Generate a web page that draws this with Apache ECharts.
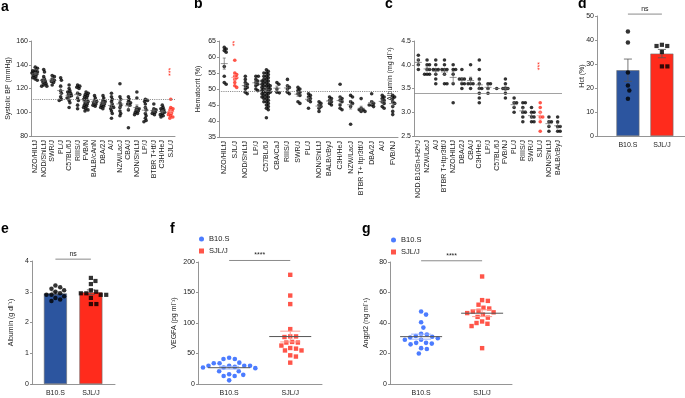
<!DOCTYPE html>
<html>
<head>
<meta charset="utf-8">
<script src="https://cdn.jsdelivr.net/npm/echarts@6/dist/echarts.min.js"></script>
<style>
html, body { margin: 0; padding: 0; background: #fff; }
#chart { width: 685px; height: 398px; }
</style>
</head>
<body>
<div id="chart"></div>
<script>
// ---------- data ----------
// a: systolic BP (mmHg) per strain
const bpStrains = ['NZO/HILtJ', 'NOD/ShiLtJ', 'SWR/J', 'PL/J', 'C57BL/6J', 'RIIIS/J', 'FVB/N', 'BALB/cAnN', 'DBA/2J',
  'A/J', 'NZW/LacJ', 'CBA/J', 'NON/ShiLtJ', 'LP/J', 'BTBR T+tf/J', 'C3H/HeJ', 'SJL/J']
const bpValues = [
  [138, 137, 135, 134, 133, 132, 131, 130, 129, 128, 127, 133, 135],
  [136, 134, 130, 128, 126, 125, 124, 123, 122, 122, 127],
  [131, 130, 128, 127, 126, 125, 123],
  [129, 127, 122, 118, 116, 113, 111, 110],
  [123, 120, 118, 117, 116, 115, 114, 113, 112, 110, 108, 104],
  [123, 122, 121, 120, 116, 115, 112, 110, 106, 103],
  [117, 116, 115, 114, 113, 112, 111, 110, 109, 108, 107, 106, 105, 104, 103, 102, 101],
  [114, 112, 110, 109, 108, 107, 106, 105],
  [114, 112, 110, 109, 108, 107, 106, 105, 104, 103],
  [116, 113, 111, 109, 107, 105, 104, 103, 101, 99, 95],
  [124, 113, 111, 108, 106, 104, 101, 99, 97],
  [113, 111, 109, 108, 107, 106, 102, 87],
  [117, 112, 104, 103, 102, 101, 100, 99, 98],
  [111, 110, 109, 107, 104, 102, 99, 97, 95, 93, 92],
  [107, 103, 102, 101, 100, 99, 98],
  [106, 104, 103, 102, 101, 100, 99, 98, 97, 96],
  [111, 104, 103, 102, 101, 100, 99, 98, 97, 96, 95]
]
const bpRed = 16
const bpRef = 111
const bpStars = [{ group: 16, value: 134, text: '***' }]

// b: hematocrit (%) per strain
const hctStrains = ['NZO/HILtJ', 'SJL/J', 'NOD/ShiLtJ', 'LP/J', 'C57BL/6J', 'CBA/CaJ', 'RIIIS/J', 'SWR/J', 'PL/J',
  'NON/ShiLtJ', 'BALB/cByJ', 'C3H/HeJ', 'NZW/LacJ', 'BTBR T+ Itpr3tf/J', 'DBA/2J', 'A/J', 'FVB/NJ']
const hctValues = [
  [63, 62.5, 62, 61.5, 57, 54, 52, 51.5],
  [59, 55, 54.5, 54, 53.5, 53, 52, 51, 50.5],
  [54, 53, 52, 51.5, 51, 50.5, 50, 49, 48.5],
  [54, 54, 53, 52.5, 52, 51.5, 51, 50, 49.5],
  [56, 55.5, 55, 55, 54.5, 54, 54, 53.5, 53, 53, 52.5, 52.5, 52, 52, 51.5, 51.5, 51, 51, 51, 50.5, 50.5, 50, 50, 50,
    49.5, 49.5, 49, 49, 49, 48.5, 48.5, 48, 48, 47.5, 47.5, 47, 47, 46.5, 46, 46, 45.5, 45, 44.5, 44, 43.5, 41],
  [52, 51.5, 50, 49, 48.8],
  [53, 51, 50.5, 50, 49, 48.5],
  [50.5, 50, 49.5, 49, 48.5, 48, 46, 45.5],
  [48.5, 48, 47.5, 47, 46.5, 46, 44],
  [46, 45.5, 45, 44.5, 44, 43],
  [47.5, 47, 46.5, 46, 45.5, 45],
  [51.5, 47.5, 47, 46.5, 46, 45, 44, 43.5],
  [48, 47.5, 46, 45.5, 44.5, 39],
  [47, 44, 43.5, 43.5, 43, 43],
  [48.5, 46, 45.5, 45, 45, 44.5],
  [48, 47.5, 47, 46.5, 46, 45.5, 44.5, 44],
  [48, 47.5, 47, 46, 45.5, 44.5, 43, 42]
]
const hctRed = 1
const hctRef = 49.3
const hctStars = [{ group: 1, value: 64.2, text: '**' }]

// c: albumin (mg/dl) per strain
const albStrains = ['NOD.B10Sn-H2ᵇ/J', 'NZW/LacJ', 'A/J', 'BTBR T+Itpr3tf/J', 'NZO/HILtJ', 'DBA/2J', 'CBA/J', 'C3H/HeJ',
  'LP/J', 'C57BL/6J', 'FVB/NJ', 'PL/J', 'RIIIS/J', 'SWR/J', 'SJL/J', 'NON/ShiLtJ', 'BALB/cByJ']
const albValues = [
  [4.2, 4.1, 4.0, 3.9],
  [4.1, 4.0, 4.0, 3.9, 3.9, 3.8, 3.8, 3.8],
  [4.1, 4.0, 3.9, 3.9, 3.9, 3.8, 3.7, 3.6],
  [4.1, 4.0, 3.9, 3.9, 3.9, 3.8, 3.6, 3.6],
  [4.0, 3.9, 3.9, 3.8, 3.6, 3.2],
  [3.9, 3.7, 3.7, 3.7, 3.6, 3.6, 3.5],
  [4.0, 3.7, 3.6, 3.6, 3.6, 3.5],
  [4.1, 3.9, 3.7, 3.6, 3.5, 3.5, 3.4, 3.3, 3.2],
  [3.6, 3.6, 3.5, 3.4],
  [3.5],
  [3.7, 3.6, 3.5, 3.5, 3.5, 3.4, 3.3],
  [3.3, 3.2, 3.2, 3.1, 3.0],
  [3.2, 3.2, 3.1, 3.0, 3.0, 2.9, 2.8],
  [3.1, 3.0, 3.0, 2.9, 2.9, 2.8, 2.8],
  [3.2, 3.1, 3.0, 2.9, 2.9, 2.8, 2.6],
  [2.9, 2.8, 2.8, 2.7, 2.6],
  [2.9, 2.8, 2.7, 2.7, 2.6, 2.6]
]
const albRed = 14
const albRef = 3.4
const albStars = [{ group: 14, value: 3.97, text: '***' }]

// d-g: B10.S vs SJL/J
const groups = ['B10.S', 'SJL/J']
const hctB10 = [43.5, 39, 26.5, 21, 19, 15.5]
const hctSJL = [38, 37.5, 37.5, 35, 29, 29]
const hctSig = { text: 'ns', level: 50.8 }
const albB10 = [3.2, 3.15, 3.1, 3.05, 3.0, 2.95, 2.9, 2.9, 2.85, 2.8, 2.75, 2.7]
const albSJL = [3.45, 3.35, 3.25, 3.05, 3.0, 2.95, 2.95, 2.9, 2.9, 2.8, 2.6, 2.6]
const albSig = { text: 'ns', level: 4.06 }
const vegfB10 = [43, 41, 41, 35, 34, 34, 30, 30, 30, 30, 28, 27, 27, 26, 21, 21, 16, 15, 13, 13, 6]
const vegfSJL = [179, 145, 131, 90, 78, 78, 77, 69, 68, 68, 63, 59, 58, 55, 55, 47, 45, 35]
const vegfSig = { text: '****', level: 202.5 }
const angB10 = [47.5, 45.5, 40.5, 37, 33, 32.5, 31.5, 31, 30.5, 30, 29, 29, 27, 27, 26.5, 26, 23.5, 23, 20]
const angSJL = [70.5, 55, 54.5, 52, 50, 49.5, 48, 47.5, 47, 46.5, 45.5, 44, 43.5, 41, 40, 39.5, 38, 23.5]
const angSig = { text: '****', level: 80.8 }

// ---------- styles / layout ----------
const FONT = 'Liberation Sans, Arial, sans-serif'
const RED = '#ff2b1c'
const DOT_BLUE = '#1f5bff'
const BAR_BLUE = '#2c559f'
const AXIS = '#7a7a7a'
const TXT = '#222'

// one entry per panel a..g
const panels = [
  { box: [31, 41, 144, 95], x: [-0.5, 16.5], y: [80, 160, 20], name: 'Systolic BP (mmHg)', gap: 19, cats: bpStrains },
  { box: [219, 41, 179, 96], x: [-0.5, 16.5], y: [35, 65, 5], name: 'Hematocrit (%)', gap: 17, cats: hctStrains },
  { box: [414, 41, 148, 95], x: [-0.5, 16.5], y: [2.5, 4.5, 0.5], name: 'Albumin (mg dl⁻¹)', gap: 21, cats: albStrains, dec: 1, ownTitle: true },
  { box: [597, 16, 88, 120], x: [-0.91, 1.68], y: [0, 50, 10], name: 'Hct (%)', gap: 11, cats: groups },
  { box: [32, 261, 83, 123], x: [-0.66, 1.68], y: [0, 4, 1], name: 'Albumin (g dl⁻¹)', gap: 17, cats: groups },
  { box: [198, 262, 124, 122], x: [-0.51, 1.52], y: [0, 200, 50], name: 'VEGFA (pg ml⁻¹)', gap: 20, cats: groups },
  { box: [390, 262, 122, 122], x: [-0.51, 1.49], y: [0, 80, 20], name: 'Angpt2 (ng ml⁻¹)', gap: 20, cats: groups }
]
panels.forEach(p => {
  p.ux = p.box[2] / (p.x[1] - p.x[0])
  p.uy = p.box[3] / (p.y[1] - p.y[0])
})

function mean (a) { return a.reduce((s, v) => s + v, 0) / a.length }
function sem (a) {
  if (a.length < 2) return 0
  const m = mean(a)
  return Math.sqrt(a.reduce((s, v) => s + (v - m) * (v - m), 0) / (a.length - 1)) / Math.sqrt(a.length)
}

// beeswarm: put dots of one group side by side so they do not sit on top of each other
function swarm (values, center, p, gap) {
  const placed = []
  const pts = []
  const order = values.map((v, i) => i).sort((i, j) => values[j] - values[i])
  order.forEach(i => {
    const py = values[i] * p.uy
    const cands = [0]
    placed.forEach(q => {
      const dy = q[1] - py
      if (Math.abs(dy) < gap) {
        const dx = Math.sqrt(gap * gap - dy * dy)
        cands.push(q[0] + dx, q[0] - dx)
      }
    })
    cands.sort((u, v) => Math.abs(u) - Math.abs(v))
    const off = cands.find(c => !placed.some(q => (q[0] - c) ** 2 + (q[1] - py) ** 2 < gap * gap - 0.01))
    placed.push([off, py])
    pts.push([center + off / p.ux, values[i]])
  })
  return pts
}

// ---------- axes ----------
const grid = panels.map(p => ({
  left: p.box[0], top: p.box[1], width: p.box[2], height: p.box[3], outerBoundsMode: 'none'
}))
const xAxis = panels.map((p, i) => ({
  type: 'value', gridIndex: i, min: p.x[0], max: p.x[1],
  splitLine: { show: false },
  axisLine: { onZero: false, lineStyle: { color: AXIS, width: 0.8 } },
  axisTick: { show: false },
  axisLabel: {
    customValues: p.cats.map((c, k) => k),
    formatter: v => p.cats[Math.round(v)],
    rotate: i < 3 ? 90 : 0,
    margin: i < 3 ? 4 : 6,
    fontSize: 7, color: TXT, fontFamily: FONT
  }
}))
const yAxis = panels.map((p, i) => ({
  type: 'value', gridIndex: i, min: p.y[0], max: p.y[1], interval: p.y[2],
  splitLine: { show: false },
  axisLine: { show: true, onZero: false, lineStyle: { color: AXIS, width: 0.8 } },
  axisTick: { show: true, length: 2, lineStyle: { color: AXIS, width: 0.8 } },
  axisLabel: {
    fontSize: 7, color: TXT, margin: 3, fontFamily: FONT,
    formatter: v => p.dec ? v.toFixed(p.dec) : String(v)
  },
  name: p.ownTitle ? '' : p.name, nameLocation: 'middle', nameRotate: 90, nameGap: p.gap, nameMoveOverlap: false,
  nameTextStyle: { fontSize: 7, color: TXT, fontFamily: FONT }
}))

// ---------- series ----------
const series = []

function strainPanel (idx, values, red, ref, refType, stars) {
  const p = panels[idx]
  const black = []
  const reds = []
  values.forEach((vals, g) => {
    swarm(vals, g, p, 2.5).forEach(pt => (g === red ? reds : black).push(pt))
  })
  series.push({
    type: 'scatter', xAxisIndex: idx, yAxisIndex: idx, symbolSize: 3.6, silent: true,
    itemStyle: { color: '#000' }, data: black,
    markLine: {
      silent: true, symbol: 'none', label: { show: false },
      lineStyle: { color: '#8a8a8a', width: refType === 'dotted' ? 1.1 : 0.8, type: refType },
      data: [{ yAxis: ref }]
    }
  })
  series.push({
    type: 'scatter', xAxisIndex: idx, yAxisIndex: idx, symbolSize: 3.6, silent: true,
    itemStyle: { color: RED }, data: reds
  })
  // mean +/- SEM
  series.push({
    type: 'custom', xAxisIndex: idx, yAxisIndex: idx, silent: true, z: 5,
    data: values.map((vals, g) => [g, mean(vals), sem(vals), g === red ? 1 : 0]),
    renderItem: (params, api) => {
      const x = api.value(0)
      const m = api.value(1)
      const s = api.value(2)
      const c = api.coord([x, m])
      const hi = api.coord([x, m + s])
      const lo = api.coord([x, m - s])
      const st = { stroke: api.value(3) ? '#ff9a90' : '#666', lineWidth: 0.7 }
      return {
        type: 'group',
        children: [
          { type: 'line', shape: { x1: c[0] - 3.5, y1: c[1], x2: c[0] + 3.5, y2: c[1] }, style: st },
          { type: 'line', shape: { x1: c[0], y1: hi[1], x2: c[0], y2: lo[1] }, style: st },
          { type: 'line', shape: { x1: c[0] - 1.5, y1: hi[1], x2: c[0] + 1.5, y2: hi[1] }, style: st },
          { type: 'line', shape: { x1: c[0] - 1.5, y1: lo[1], x2: c[0] + 1.5, y2: lo[1] }, style: st }
        ]
      }
    }
  })
  // red significance stars
  series.push({
    type: 'custom', xAxisIndex: idx, yAxisIndex: idx, silent: true, z: 6,
    data: stars.map(s => [s.group, s.value]),
    renderItem: (params, api) => {
      const c = api.coord([api.value(0), api.value(1)])
      return {
        type: 'text', x: c[0], y: c[1], rotation: Math.PI / 2,
        style: {
          text: stars[params.dataIndex].text, fill: RED, font: '7px ' + FONT,
          align: 'center', verticalAlign: 'middle'
        }
      }
    }
  })
}

strainPanel(0, bpValues, bpRed, bpRef, 'dotted', bpStars)
strainPanel(1, hctValues, hctRed, hctRef, 'dotted', hctStars)
strainPanel(2, albValues, albRed, albRef, 'solid', albStars)

function sigSeries (idx, sig) {
  series.push({
    type: 'custom', xAxisIndex: idx, yAxisIndex: idx, silent: true, z: 6,
    data: [[0, sig.level, 1]],
    renderItem: (params, api) => {
      const a = api.coord([api.value(0), api.value(1)])
      const b = api.coord([api.value(2), api.value(1)])
      return {
        type: 'group',
        children: [
          { type: 'line', shape: { x1: a[0], y1: a[1], x2: b[0], y2: b[1] }, style: { stroke: '#8a8a8a', lineWidth: 1 } },
          {
            type: 'text', x: (a[0] + b[0]) / 2, y: a[1] - 1.5,
            style: { text: sig.text, fill: TXT, font: '7px ' + FONT, align: 'center', verticalAlign: 'bottom' }
          }
        ]
      }
    }
  })
}

function barPanel (idx, b10, sjl, sig) {
  const p = panels[idx]
  series.push({
    type: 'bar', xAxisIndex: idx, yAxisIndex: idx, barWidth: 23, silent: true,
    itemStyle: { borderColor: '#6f6f6f', borderWidth: 0.6 },
    data: [
      { value: [0, mean(b10)], itemStyle: { color: BAR_BLUE } },
      { value: [1, mean(sjl)], itemStyle: { color: RED } }
    ]
  })
  series.push({
    type: 'custom', xAxisIndex: idx, yAxisIndex: idx, silent: true, z: 4,
    data: [b10, sjl].map((vals, g) => [g, mean(vals), sem(vals)]),
    renderItem: (params, api) => {
      const x = api.value(0)
      const m = api.value(1)
      const s = api.value(2)
      const hi = api.coord([x, m + s])
      const lo = api.coord([x, m - s])
      const st = { stroke: '#555', lineWidth: 0.8 }
      return {
        type: 'group',
        children: [
          { type: 'line', shape: { x1: hi[0], y1: hi[1], x2: lo[0], y2: lo[1] }, style: st },
          { type: 'line', shape: { x1: hi[0] - 4, y1: hi[1], x2: hi[0] + 4, y2: hi[1] }, style: st },
          { type: 'line', shape: { x1: lo[0] - 4, y1: lo[1], x2: lo[0] + 4, y2: lo[1] }, style: st }
        ]
      }
    }
  })
  series.push({
    type: 'scatter', xAxisIndex: idx, yAxisIndex: idx, symbol: 'circle', symbolSize: 4.5, silent: true, z: 5,
    itemStyle: { color: '#000' }, data: swarm(b10, 0, p, 5)
  })
  series.push({
    type: 'scatter', xAxisIndex: idx, yAxisIndex: idx, symbol: 'rect', symbolSize: 4.2, silent: true, z: 5,
    itemStyle: { color: '#000' }, data: swarm(sjl, 1, p, 5.5)
  })
  sigSeries(idx, sig)
}

barPanel(3, hctB10, hctSJL, hctSig)
barPanel(4, albB10, albSJL, albSig)

function dotPanel (idx, b10, sjl, sig) {
  const p = panels[idx]
  series.push({
    name: 'B10.S', type: 'scatter', xAxisIndex: idx, yAxisIndex: idx, symbol: 'circle', symbolSize: 4.6, silent: true,
    itemStyle: { color: DOT_BLUE }, data: swarm(b10, 0, p, 5.8)
  })
  series.push({
    name: 'SJL/J', type: 'scatter', xAxisIndex: idx, yAxisIndex: idx, symbol: 'rect', symbolSize: 4.4, silent: true,
    itemStyle: { color: RED }, data: swarm(sjl, 1, p, 5.8)
  })
  series.push({
    type: 'custom', xAxisIndex: idx, yAxisIndex: idx, silent: true, z: 5,
    data: [b10, sjl].map((vals, g) => [g, mean(vals), sem(vals)]),
    renderItem: (params, api) => {
      const x = api.value(0)
      const m = api.value(1)
      const s = api.value(2)
      const c = api.coord([x, m])
      const hi = api.coord([x, m + s])
      const lo = api.coord([x, m - s])
      const light = { stroke: params.dataIndex ? '#ff9d93' : '#9db5ff', lineWidth: 1 }
      return {
        type: 'group',
        children: [
          { type: 'line', shape: { x1: c[0] - 10, y1: hi[1], x2: c[0] + 10, y2: hi[1] }, style: light },
          { type: 'line', shape: { x1: c[0] - 10, y1: lo[1], x2: c[0] + 10, y2: lo[1] }, style: light },
          { type: 'line', shape: { x1: c[0], y1: hi[1], x2: c[0], y2: lo[1] }, style: light },
          { type: 'line', shape: { x1: c[0] - 21, y1: c[1], x2: c[0] + 21, y2: c[1] }, style: { stroke: '#555', lineWidth: 1 } }
        ]
      }
    }
  })
  sigSeries(idx, sig)
}

dotPanel(5, vegfB10, vegfSJL, vegfSig)
dotPanel(6, angB10, angSJL, angSig)

// panel letters
const letters = [['a', 1, 16], ['b', 194, 13], ['c', 385, 13], ['d', 578, 13], ['e', 1, 238], ['f', 170, 238], ['g', 362, 238]]

const legendBase = {
  orient: 'vertical', itemWidth: 5, itemHeight: 5, itemGap: 4, selectedMode: false,
  textStyle: { fontSize: 7.5, color: TXT, fontFamily: FONT },
  data: [{ name: 'B10.S', icon: 'circle' }, { name: 'SJL/J', icon: 'rect' }]
}

const chart = echarts.init(document.getElementById('chart'))
chart.setOption({
  animation: false,
  backgroundColor: '#fff',
  textStyle: { fontFamily: FONT },
  grid, xAxis, yAxis, series,
  legend: [
    Object.assign({ left: 194, top: 230 }, legendBase),
    Object.assign({ left: 386, top: 231 }, legendBase)
  ],
  graphic: letters.map(l => ({
    type: 'text', left: l[1], top: l[2] - 16,
    style: { text: l[0], font: 'bold 14px ' + FONT, fill: '#000' }
  })).concat([{
    // panel c title sits higher than the axis middle in the original
    type: 'text', x: 390, y: 74, rotation: Math.PI / 2,
    style: { text: panels[2].name, font: '7px ' + FONT, fill: TXT, align: 'center', verticalAlign: 'middle' }
  }])
})
</script>
</body>
</html>
